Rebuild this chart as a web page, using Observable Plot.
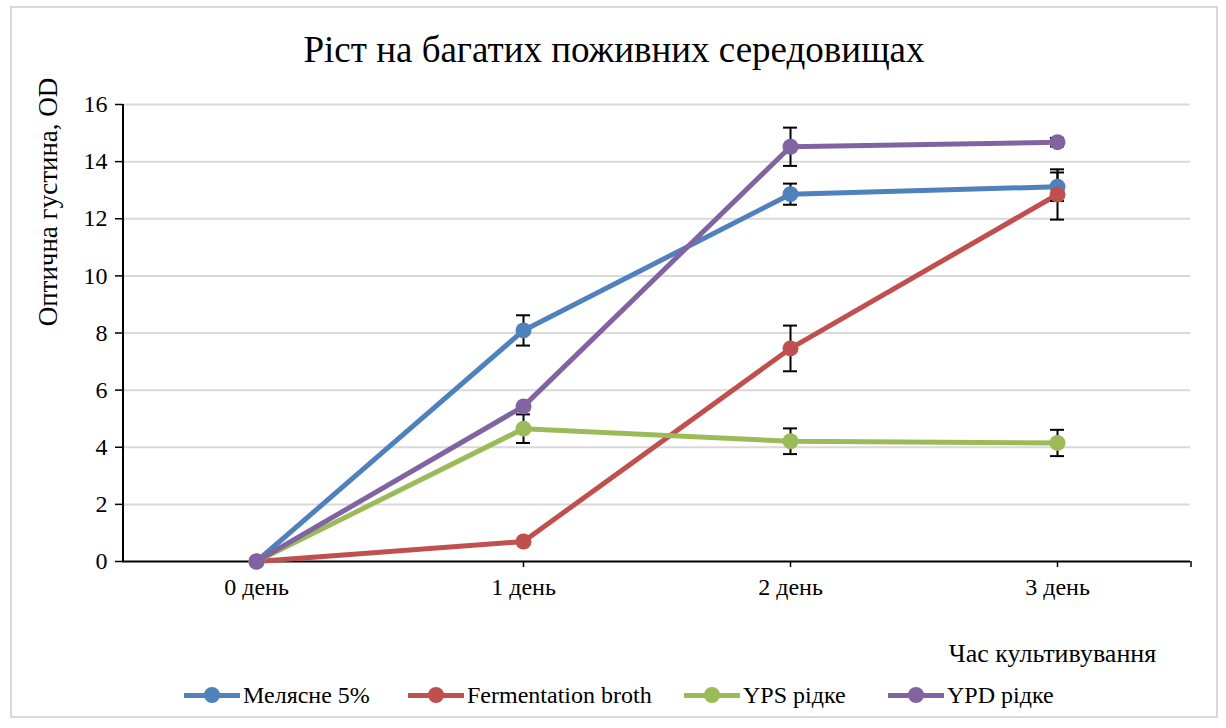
<!DOCTYPE html>
<html>
<head>
<meta charset="utf-8">
<script src="https://cdn.jsdelivr.net/npm/d3@7"></script>
<script src="https://cdn.jsdelivr.net/npm/@observablehq/plot@0.6"></script>
<style>
  html, body { margin: 0; padding: 0; background: #fff; }
  #wrap { position: relative; width: 1226px; height: 728px; overflow: hidden; font-family: "Liberation Serif", "DejaVu Serif", serif; color: #000; }
  #frame { position: absolute; left: 10px; top: 6px; width: 1208px; height: 712px; border: 2px solid #d9d9d9; box-sizing: border-box; }
  #title { position: absolute; left: 0; top: 28px; width: 1228px; text-align: center; font-size: 37px; line-height: 44px; }
  #ylabel { position: absolute; left: 48px; top: 202px; width: 0; height: 0; }
  #ylabel span { position: absolute; left: 0; top: 0; transform: translate(-50%, -50%) rotate(-90deg); white-space: nowrap; font-size: 27px; line-height: 30px; }
  #chart { position: absolute; left: 0; top: 80px; }
  #legend { position: absolute; left: 0; top: 680px; width: 1226px; height: 30px; }
  .item { position: absolute; top: 0; display: flex; align-items: center; font-size: 24px; line-height: 30px; height: 30px; }
  .sw { position: relative; width: 56px; height: 30px; margin-right: 3px; }
  .sw .ln { position: absolute; left: 0; top: 12.5px; width: 56px; height: 5px; }
  .sw .dt { position: absolute; left: 20px; top: 7px; width: 16px; height: 16px; border-radius: 50%; }
</style>
</head>
<body>
<div id="wrap">
  <div id="frame"></div>
  <div id="title">Ріст на багатих поживних середовищах</div>
  <div id="chart"></div>
  <div id="ylabel"><span id="ylabeltext"></span></div>
  <div id="legend"></div>
</div>
<script>
const days = ["0 день", "1 день", "2 день", "3 день"];
const seriesNames = ["Мелясне 5%", "Fermentation broth", "YPS рідке", "YPD рідке"];
const seriesColors = ["#4f81bd", "#c0504d", "#9bbb59", "#8064a2"];

const melasse    = [0, 8.09, 12.86, 13.12];
const melasseErr = [0, 0.53, 0.37, 0.50];
const ferment    = [0, 0.70, 7.46, 12.85];
const fermentErr = [0, 0, 0.80, 0.88];
const yps        = [0, 4.65, 4.21, 4.15];
const ypsErr     = [0, 0.50, 0.45, 0.46];
const ypd        = [0, 5.43, 14.52, 14.68];
const ypdErr     = [0, 0, 0.67, 0.15];

const yTicks = [0, 2, 4, 6, 8, 10, 12, 14, 16];
const yLabel = "Оптична густина, OD";
const xLabel = "Час культивування";

const valuesBySeries = [melasse, ferment, yps, ypd];
const errsBySeries = [melasseErr, fermentErr, ypsErr, ypdErr];

const data = [];
seriesNames.forEach((s, i) => {
  days.forEach((d, j) => {
    data.push({series: s, day: d, value: valuesBySeries[i][j], err: errsBySeries[i][j]});
  });
});
const errData = data.filter(d => d.err > 0);

const color = {domain: seriesNames, range: seriesColors};
const ff = "Liberation Serif, DejaVu Serif, serif";

const chart = Plot.plot({
  width: 1226,
  height: 600,
  marginLeft: 122,
  marginRight: 36,
  marginTop: 24,
  marginBottom: 119,
  style: {fontFamily: ff, fontSize: "24px", color: "#000", background: "transparent"},
  x: {type: "point", domain: days, padding: 0.5, label: null},
  y: {type: "linear", domain: [0, 16], label: null},
  color,
  marks: [
    Plot.ruleY(yTicks.filter(t => t > 0), {stroke: "#d9d9d9", strokeWidth: 2}),
    Plot.axisY({ticks: yTicks, tickSize: 7, tickPadding: 8, stroke: "#000", strokeWidth: 1.5, strokeOpacity: 1, fontSize: 24, fontFamily: ff, label: null}),
    Plot.axisX({tickSize: 6, tickPadding: 10, stroke: "#000", strokeWidth: 1.5, strokeOpacity: 1, fontSize: 24, fontFamily: ff, label: null}),
    Plot.ruleY([0], {stroke: "#000", strokeWidth: 2}),
    Plot.ruleX([days[0]], {dx: -133.5, stroke: "#000", strokeWidth: 2}),
    Plot.ruleX([{d: days[3]}], {x: "d", y1: () => 0, y2: () => 0, insetBottom: -6, dx: 133.5, stroke: "#000", strokeWidth: 1.5}),
    Plot.line(data, {x: "day", y: "value", z: "series", stroke: "series", strokeWidth: 5, strokeLinejoin: "round"}),
    Plot.ruleX(errData, {x: "day", y1: d => d.value - d.err, y2: d => d.value + d.err, stroke: "#000", strokeWidth: 2}),
    Plot.ruleY(errData, {x1: "day", x2: "day", y: d => d.value - d.err, insetLeft: -7, insetRight: -7, stroke: "#000", strokeWidth: 2}),
    Plot.ruleY(errData, {x1: "day", x2: "day", y: d => d.value + d.err, insetLeft: -7, insetRight: -7, stroke: "#000", strokeWidth: 2}),
    Plot.dot(data, {x: "day", y: "value", fill: "series", r: 8}),
    Plot.text([xLabel], {frameAnchor: "bottom-right", textAnchor: "middle", dx: -138, dy: 100, fontSize: 26, fontFamily: ff, fill: "#000"})
  ]
});
document.getElementById("chart").appendChild(chart);
document.getElementById("ylabeltext").textContent = yLabel;

// legend
const legendX = [184, 408, 684, 888];
const legend = document.getElementById("legend");
seriesNames.forEach((s, i) => {
  const it = document.createElement("div");
  it.className = "item";
  it.style.left = legendX[i] + "px";
  it.innerHTML = `<div class="sw"><div class="ln" style="background:${seriesColors[i]}"></div><div class="dt" style="background:${seriesColors[i]}"></div></div><span>${s}</span>`;
  legend.appendChild(it);
});
</script>
</body>
</html>
